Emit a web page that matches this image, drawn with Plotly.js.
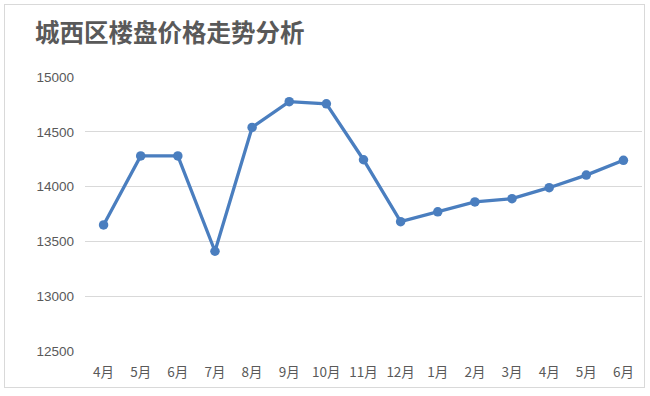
<!DOCTYPE html>
<html>
<head>
<meta charset="utf-8">
<script src="https://cdn.plot.ly/plotly-3.0.1.min.js"></script>
<style>
html,body{margin:0;padding:0;background:#fff;}
#frame{position:absolute;left:4px;top:4px;width:641px;height:384px;border:1px solid #d9d9d9;box-sizing:border-box;}
#chart{position:absolute;left:0;top:0;width:650px;height:396px;}
</style>
</head>
<body>
<div id="frame"></div>
<div id="chart"></div>
<script>
const months = ["4月","5月","6月","7月","8月","9月","10月","11月","12月","1月","2月","3月","4月","5月","6月"];
const prices = [13650,14280,14280,13410,14540,14775,14755,14245,13680,13770,13860,13890,13990,14105,14240];
const yTicks = [12500,13000,13500,14000,14500,15000];
const chartTitle = "城西区楼盘价格走势分析";

const xIdx = months.map((m,i)=>i);

Plotly.newPlot('chart', [{
  x: xIdx,
  y: prices,
  type: 'scatter',
  mode: 'lines+markers',
  line: {color: '#4a7ebf', width: 3.3},
  marker: {color: '#4a7ebf', size: 9.5},
  hoverinfo: 'skip'
}], {
  width: 650, height: 396,
  paper_bgcolor: 'rgba(0,0,0,0)',
  plot_bgcolor: 'rgba(0,0,0,0)',
  margin: {l: 85, r: 8, t: 77, b: 45, pad: 0},
  showlegend: false,
  title: {
    text: '<b>' + chartTitle + '</b>',
    x: 35/650, xanchor: 'left',
    y: 1 - 33/396, yanchor: 'middle',
    font: {family: '"Noto Sans CJK SC", sans-serif', size: 24.5, color: '#595959'}
  },
  xaxis: {
    type: 'linear',
    range: [-0.5, months.length - 0.5],
    tickvals: xIdx,
    ticktext: months,
    showgrid: false,
    zeroline: false,
    showline: false,
    ticks: '',
    ticklen: 0,
    ticklabelstandoff: 11,
    tickfont: {family: '"Noto Sans CJK SC", "Liberation Sans", sans-serif', size: 13.5, color: '#595959'},
    fixedrange: true
  },
  yaxis: {
    range: [12500, 15000],
    tickvals: yTicks,
    ticktext: yTicks.map(String),
    showgrid: true,
    gridcolor: '#d9d9d9',
    gridwidth: 1,
    zeroline: false,
    showline: false,
    ticks: '',
    ticklabelstandoff: 10,
    tickfont: {family: '"Liberation Sans", sans-serif', size: 13.5, color: '#595959'},
    fixedrange: true
  }
}, {displayModeBar: false, staticPlot: true});
</script>
</body>
</html>
